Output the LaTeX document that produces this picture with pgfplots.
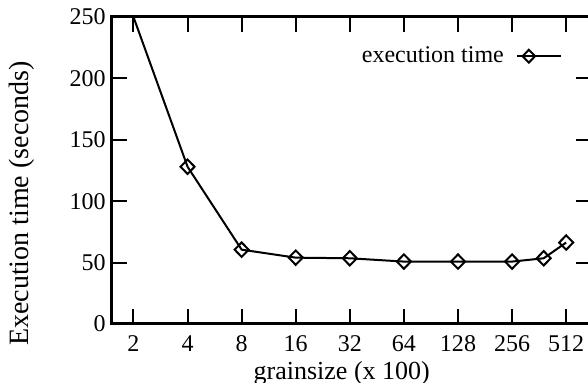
\documentclass[border=0pt]{standalone}
\usepackage{pgfplots}
\pgfplotsset{compat=1.18}
\usepackage{fontspec}
\setmainfont{Liberation Serif}
\begin{document}
\begin{tikzpicture}
\begin{axis}[
  width=239.6pt, height=153.5pt, scale only axis,
  xmode=log, log basis x=2,
  xmin=1.513, xmax=704,
  ymin=0, ymax=250,
  xtick={2,4,8,16,32,64,128,256,512},
  xticklabels={2,4,8,16,32,64,128,256,512},
  ytick={0,50,100,150,200,250},
  yticklabels={0,50,100,150,200,250},
  minor tick num=0,
  /pgf/number format/assume math mode=true,
  tick align=inside,
  major tick length=7.5pt,
  every tick/.style={line width=1pt, black},
  axis line style={line width=1.5pt},
  tick label style={font=\fontsize{12}{14}\selectfont},
  xticklabel style={text height=8.5pt, text depth=0pt, yshift=-1.5pt},
  yticklabel style={xshift=0.5pt},
  xlabel={grainsize (x 100)},
  ylabel={Execution time (seconds)},
  xlabel style={font=\fontsize{13}{15}\selectfont, at={(axis description cs:0.48,-0.16)}, anchor=center},
  ylabel style={font=\fontsize{14}{16}\selectfont, at={(axis description cs:-0.187,0.392)}, anchor=center},
  legend plot pos=right,
  legend style={draw=none, fill=none, at={(axis description cs:0.94,0.872)}, anchor=east,
    font=\fontsize{12}{14}\selectfont, inner sep=0pt,
    /tikz/every odd column/.append style={column sep=4pt}},
  legend cell align=right,
  legend image code/.code={
    \draw[black,line width=1pt] (0pt,0pt) -- (22pt,0pt);
    \path[black,line width=1pt,mark=diamond,mark size=3.2pt,mark options={xscale=1.3,fill=white,line width=1pt}]
      plot coordinates {(6pt,0pt)};
  },
]
\addplot[black, line width=1pt, forget plot] coordinates {(2,250) (4,128)};
\addplot[black, line width=1pt, mark=diamond, mark size=3.6pt,
  mark options={xscale=1.3, line width=1pt, fill=white}] coordinates {
  (4,128) (8,60.5) (16,54) (32,53.5) (64,50.8) (128,50.8) (256,50.8) (384,53.5) (512,66.3)
};
\addlegendentry{execution time}
\coordinate (bl) at (axis description cs:-0.233,-0.189);
\coordinate (tr) at (axis description cs:0.9937,1.055);
\end{axis}
\pgfresetboundingbox
\path[use as bounding box] (bl) rectangle (tr);
\end{tikzpicture}
\end{document}
